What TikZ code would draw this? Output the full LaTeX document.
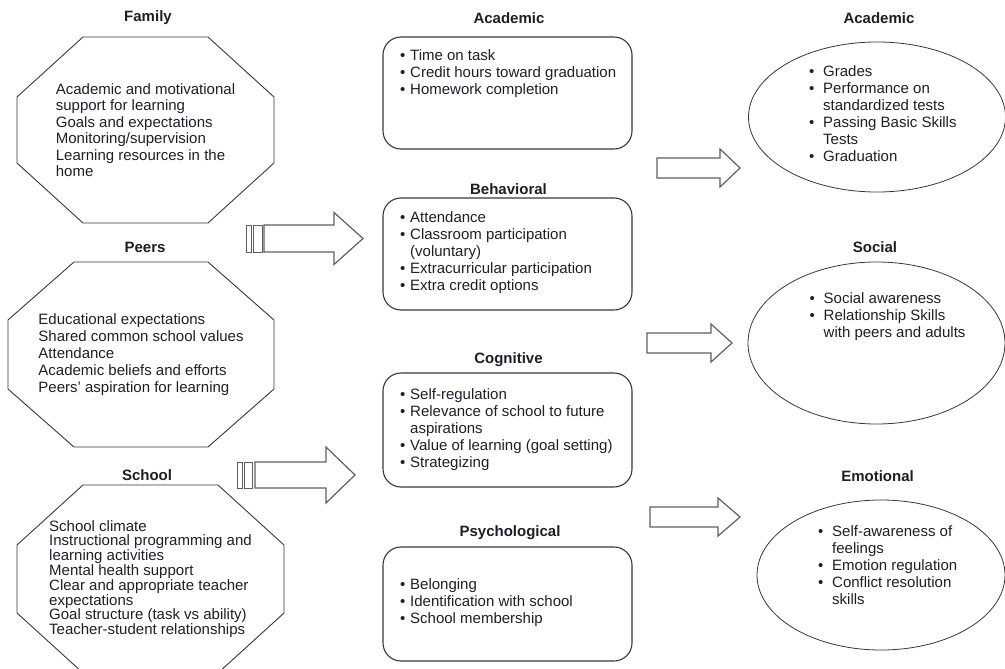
\documentclass[tikz,border=0pt]{standalone}
\usepackage{fontspec}
\setmainfont{Liberation Sans}
\usetikzlibrary{shapes.geometric,positioning,calc}

\definecolor{inkc}{RGB}{30,30,40}
\definecolor{linec}{RGB}{55,55,55}

% bullets for the lists
\newcommand{\bul}{\makebox[10pt][l]{\textbullet}}
\newcommand{\ind}{\hspace*{10pt}}
\newcommand{\obul}{\makebox[14pt][l]{\textbullet}}
\newcommand{\oind}{\hspace*{14pt}}

% irregular octagon round a node: node, cut x, cut y
\newcommand{\octagon}[3]{%
  \draw[octline] ($(#1.north west)+(#2,0)$) -- ($(#1.north east)+(-#2,0)$)
    -- ($(#1.north east)+(0,-#3)$) -- ($(#1.south east)+(0,#3)$)
    -- ($(#1.south east)+(-#2,0)$) -- ($(#1.south west)+(#2,0)$)
    -- ($(#1.south west)+(0,#3)$) -- ($(#1.north west)+(0,-#3)$) -- cycle;}

% block arrow: start x, tip x, y, shaft half, head half, head length
\newcommand{\blockarrow}[6]{%
  \draw[arrline] (#1,#3+#4) -- (#2-#6,#3+#4) -- (#2-#6,#3+#5) -- (#2,#3)
    -- (#2-#6,#3-#5) -- (#2-#6,#3-#4) -- (#1,#3-#4) -- cycle;}

\begin{document}
\begin{tikzpicture}[x=1pt, y=1pt, font=\fontsize{15}{17}\selectfont, text=inkc,
    headline/.style={font=\fontsize{15}{17}\selectfont\bfseries, inner sep=0pt},
    octo/.style={align=left, inner sep=0pt, outer sep=0pt},
    midbox/.style={draw=linec, line width=1.1pt, rounded corners=18pt, minimum width=249pt, minimum height=112pt, inner sep=0pt, outer sep=0pt},
    outcome/.style={draw=linec, line width=0.8pt, ellipse, inner sep=0pt, outer sep=0pt},
    listtext/.style={align=left, inner sep=0pt, anchor=north west},
    octline/.style={draw=linec, line width=0.9pt},
    arrline/.style={draw=linec!80, line width=1.2pt, line join=miter},
    barline/.style={draw=linec!80, line width=0.8pt}]

    \useasboundingbox (0,0) rectangle (1005,-669);

    % Influences (left)
    \node[headline] (famTitle) at (148,-18) {Family};
    \node[octo, minimum width=257pt, minimum height=186pt, font=\fontsize{15}{16.5}\selectfont] (fam) at (145.5,-130)
        {Academic and motivational\\support for learning\\Goals and expectations\\Monitoring/supervision\\Learning resources in the\\home};
    \octagon{fam}{66}{60}

    \node[headline] (peerTitle) at (145,-247) {Peers};
    \node[octo, minimum width=266pt, minimum height=185pt] (peer) at (141,-354.5)
        {Educational expectations\\Shared common school values\\Attendance\\Academic beliefs and efforts\\Peers' aspiration for learning};
    \octagon{peer}{66}{58}

    \node[headline] (schTitle) at (147,-475) {School};
    \node[octo, minimum width=267pt, minimum height=188pt, font=\fontsize{15}{14.8}\selectfont] (sch) at (150.5,-579)
        {School climate\\Instructional programming and\\learning activities\\Mental health support\\Clear and appropriate teacher\\expectations\\Goal structure (task vs ability)\\Teacher-student relationships};
    \octagon{sch}{66}{60}

    % Engagement (middle)
    \node[headline] (acadTitle) at (509,-18) {Academic};
    \node[midbox] (acadMid) at (507.5,-93) {};
    \node[listtext, below right=12pt and 17pt of acadMid.north west] (acadList)
        {\bul Time on task\\\bul Credit hours toward graduation\\\bul Homework completion};

    \node[headline] (behTitle) at (508.5,-189) {Behavioral};
    \node[midbox] (behMid) at (507.5,-254) {};
    \node[listtext, below right=13pt and 17pt of behMid.north west] (behList)
        {\bul Attendance\\\bul Classroom participation\\\ind(voluntary)\\\bul Extracurricular participation\\\bul Extra credit options};

    \node[headline] (cogTitle) at (508.5,-360) {Cognitive};
    \node[midbox, minimum height=114pt] (cogMid) at (507.5,-430) {};
    \node[listtext, below right=15pt and 17pt of cogMid.north west] (cogList)
        {\bul Self-regulation\\\bul Relevance of school to future\\\ind aspirations\\\bul Value of learning (goal setting)\\\bul Strategizing};

    \node[headline] (psyTitle) at (510,-533) {Psychological};
    \node[midbox, minimum height=114pt] (psyMid) at (507.5,-604) {};
    \node[listtext, below right=31pt and 17pt of psyMid.north west] (psyList)
        {\bul Belonging\\\bul Identification with school\\\bul School membership};

    % Outcomes (right)
    \node[headline] (acadOutTitle) at (879,-18) {Academic};
    \node[outcome, minimum width=257pt, minimum height=150pt] (acadOut) at (877,-117) {};
    \node[listtext] (acadOutList) at ($(acadOut.center)+(-68,52)$)
        {\obul Grades\\\obul Performance on\\\oind standardized tests\\\obul Passing Basic Skills\\\oind Tests\\\obul Graduation};

    \node[headline] (socTitle) at (875,-247) {Social};
    \node[outcome, minimum width=257pt, minimum height=162pt] (socOut) at (876.5,-343) {};
    \node[listtext] (socList) at ($(socOut.center)+(-67,51)$)
        {\obul Social awareness\\\obul Relationship Skills\\\oind with peers and adults};

    \node[headline] (emoTitle) at (877.5,-476) {Emotional};
    \node[outcome, minimum width=248pt, minimum height=150pt] (emoOut) at (881,-575) {};
    \node[listtext] (emoList) at ($(emoOut.center)+(-63,50)$)
        {\obul Self-awareness of\\\oind feelings\\\obul Emotion regulation\\\obul Conflict resolution\\\oind skills};

    % Block arrows
    \draw[barline] (246,-225) rectangle (251,-252);
    \draw[barline] (253.5,-225) rectangle (262,-252);
    \blockarrow{264}{363}{-238.5}{13.5}{26}{29}

    \draw[barline] (237,-462) rectangle (242,-488);
    \draw[barline] (244.5,-462) rectangle (252.5,-488);
    \blockarrow{255}{355}{-475}{13}{28}{29}

    \blockarrow{657}{740}{-168}{10}{19}{20}
    \blockarrow{647}{732}{-343}{10}{19}{21}
    \blockarrow{650}{740}{-517}{10}{19}{22}

\end{tikzpicture}
\end{document}
